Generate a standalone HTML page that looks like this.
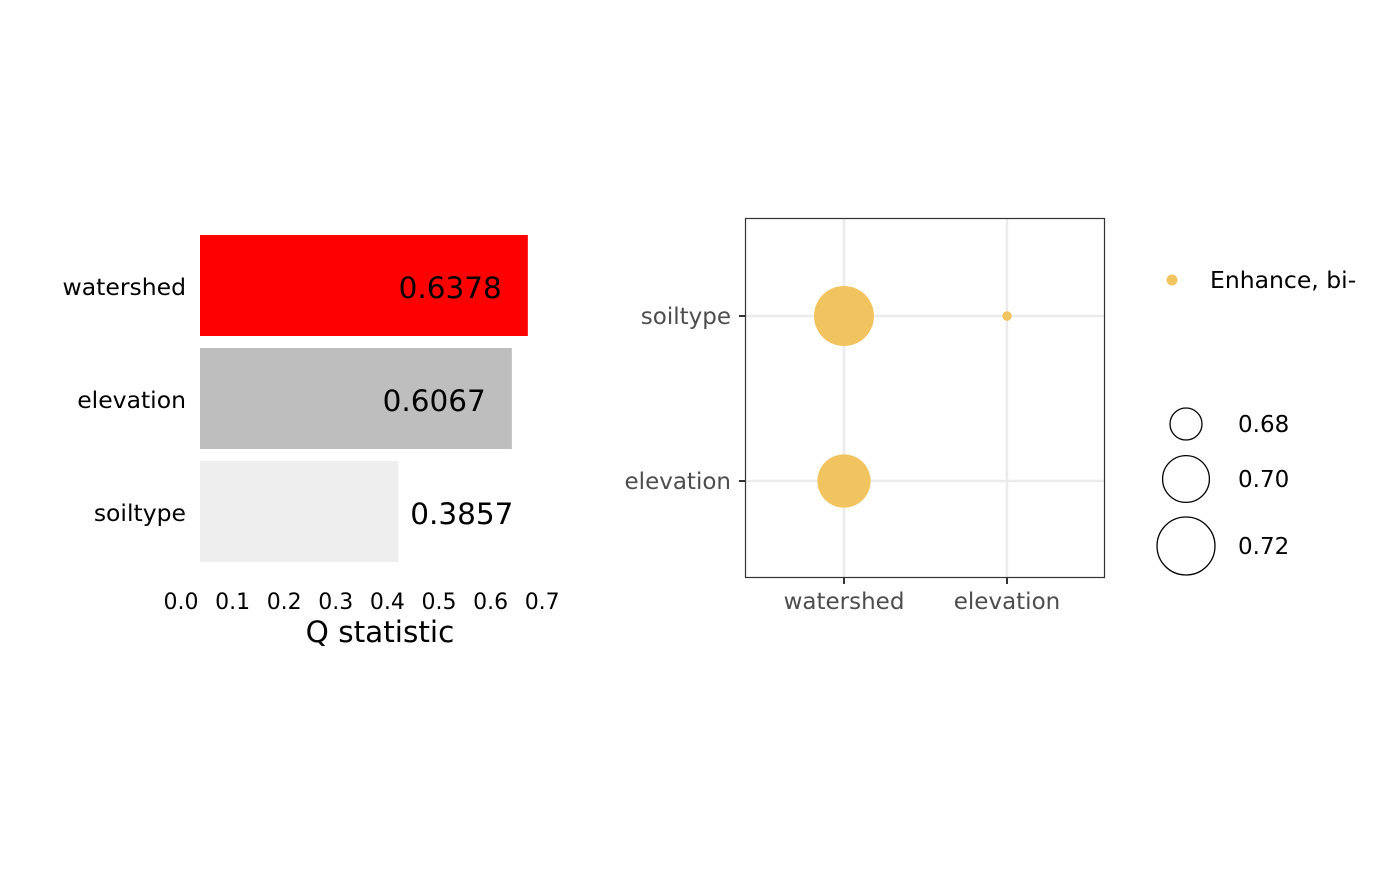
<!DOCTYPE html>
<html><head><meta charset="utf-8"><style>
body{margin:0;background:#fff;font-family:"Liberation Sans","DejaVu Sans",sans-serif;}
</style></head><body>
<svg width="1400" height="866" xmlns="http://www.w3.org/2000/svg" font-family="DejaVu Sans, Liberation Sans, sans-serif">
<rect width="1400" height="866" fill="#fff"/>
<g id="bars"></g>
<g id="bubble"></g>
</svg>
<script>
const barCats = ["watershed","elevation","soiltype"];
const barVals = [0.6378,0.6067,0.3857];
const barColors = ["#ff0000","#bebebe","#eeeeee"];
const barTicks = ["0.0","0.1","0.2","0.3","0.4","0.5","0.6","0.7"];

const xCats = ["watershed","elevation"];
const yCats = ["soiltype","elevation"];
const ptX = ["watershed","watershed","elevation"];
const ptY = ["soiltype","elevation","soiltype"];
const ptVals = [0.724,0.711,0.664];
const legendVals = [0.68,0.70,0.72];

const NS="http://www.w3.org/2000/svg";
function mk(parent,tag,attrs,text){const e=document.createElementNS(NS,tag);for(const k in attrs)e.setAttribute(k,attrs[k]);if(text!==undefined)e.textContent=text;parent.appendChild(e);return e;}

// bar chart
const bg=document.getElementById('bars');
const bx=v=>200+v*514;
const by=i=>235+i*113;
barCats.forEach((c,i)=>{
  const r=mk(bg,'rect',{x:bx(0),y:by(i),width:bx(barVals[i])-bx(0),height:101,fill:barColors[i]});
  
  
  const l=mk(bg,'text',{x:186,y:by(i)+60,'text-anchor':'end','font-size':23.5,fill:'#000'},c);
  
  
  const inside=barVals[i]>0.5;
  const vt=mk(bg,'text',{x:inside?bx(barVals[i])-26:bx(barVals[i])+12,y:by(i)+63,'text-anchor':inside?'end':'start','font-size':29.5,fill:'#000'},barVals[i].toFixed(4));
  
  
});
barTicks.forEach((t,i)=>{
  const e=mk(bg,'text',{x:181+i*51.6,y:609,'text-anchor':'middle','font-size':22,fill:'#000'},t);
  
  
});
const xt=mk(bg,'text',{x:380,y:642,'text-anchor':'middle','font-size':29.5,fill:'#000'},'Q statistic');



// bubble chart
const g=document.getElementById('bubble');
const px=c=>[844,1007][xCats.indexOf(c)];
const py=c=>[316,481][yCats.indexOf(c)];
const rad=v=>Math.sqrt(Math.max(4,256+(v-0.68)*14600));
xCats.forEach(c=>{mk(g,'line',{x1:px(c),x2:px(c),y1:218,y2:578,stroke:'#ebebeb','stroke-width':2.5});});
yCats.forEach(c=>{mk(g,'line',{x1:745,x2:1105,y1:py(c),y2:py(c),stroke:'#ebebeb','stroke-width':2.5});});
ptVals.forEach((v,i)=>{
  const p=mk(g,'circle',{cx:px(ptX[i]),cy:py(ptY[i]),r:rad(v),fill:'#f1c45f'});
  
  
});
const pb=mk(g,'rect',{x:745.5,y:218.5,width:359,height:359,fill:'none',stroke:'#333','stroke-width':1.2});


xCats.forEach(c=>{
  mk(g,'line',{x1:px(c),x2:px(c),y1:578,y2:584,stroke:'#333','stroke-width':2});
  const t=mk(g,'text',{x:px(c),y:609,'text-anchor':'middle','font-size':23,fill:'#4d4d4d'},c);
  
  
});
yCats.forEach(c=>{
  mk(g,'line',{x1:739,x2:745,y1:py(c),y2:py(c),stroke:'#333','stroke-width':2});
  const t=mk(g,'text',{x:731,y:py(c)+8,'text-anchor':'end','font-size':23,fill:'#4d4d4d'},c);
  
  
});
// legends
const ld=mk(g,'circle',{cx:1172,cy:280,r:5.5,fill:'#f1c45f'});


const lt=mk(g,'text',{x:1210,y:288,'font-size':23.5,fill:'#000'},'Enhance, bi-');


const ly=[424,479,546];
legendVals.forEach((v,i)=>{
  const c=mk(g,'circle',{cx:1186,cy:ly[i],r:rad(v),fill:'none',stroke:'#000','stroke-width':1.3});
  
  
  const t=mk(g,'text',{x:1238,y:ly[i]+8,'font-size':23,fill:'#000'},v.toFixed(2));
  
  
});
</script>
</body></html>
